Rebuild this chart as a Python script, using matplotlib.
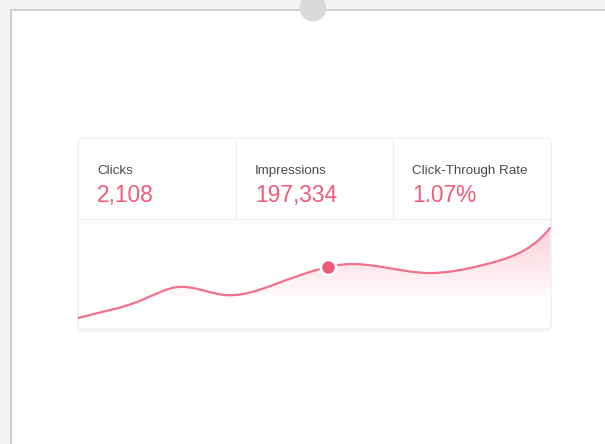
import numpy as np
import matplotlib.pyplot as plt
from matplotlib.patches import FancyBboxPatch, Circle, Rectangle, PathPatch
from matplotlib.path import Path

# stats shown in the card header
stat_labels = ['Clicks', 'Impressions', 'Click-Through Rate']
stat_values = ['2,108', '197,334', '1.07%']

# trend line (x position along the card, value)
x_pos = [0, 64, 100, 147, 195, 250, 265, 350, 405, 439, 472]
clicks = [12, 30, 43, 35, 45, 63, 65.5, 57, 65, 76, 102]
highlight = 5

pink = '#f2708c'
pink_dark = '#ee5a7c'
value_color = '#f25a7c'
label_color = '#4a4a4a'
line_color = '#edf1f6'


def smooth_path(xs, ys, start_slope, end_slope):
    # clamped cubic spline through the points, as bezier segments
    xs = np.asarray(xs, float)
    ys = np.asarray(ys, float)
    n = len(xs)
    h = np.diff(xs)
    s = np.diff(ys) / h
    A = np.zeros((n, n))
    b = np.zeros(n)
    A[0, 0] = 1
    b[0] = start_slope
    A[-1, -1] = 1
    b[-1] = end_slope
    for i in range(1, n - 1):
        A[i, i - 1] = h[i]
        A[i, i] = 2 * (h[i - 1] + h[i])
        A[i, i + 1] = h[i - 1]
        b[i] = 3 * (h[i] * s[i - 1] + h[i - 1] * s[i])
    t = np.linalg.solve(A, b)
    verts = [(xs[0], ys[0])]
    codes = [Path.MOVETO]
    for i in range(n - 1):
        dx = h[i] / 3
        verts += [(xs[i] + dx, ys[i] + dx * t[i]),
                  (xs[i + 1] - dx, ys[i + 1] - dx * t[i + 1]),
                  (xs[i + 1], ys[i + 1])]
        codes += [Path.CURVE4] * 3
    return verts, codes


fig = plt.figure(figsize=(6.05, 4.44), dpi=100)
fig.patch.set_facecolor('#f4f4f4')

bg = fig.add_axes([0, 0, 1, 1])
bg.set_xlim(0, 605)
bg.set_ylim(444, 0)
bg.axis('off')

# white sheet with grey edge and pin
bg.add_patch(Rectangle((10.5, 10.5), 620, 460, facecolor='white', edgecolor='#c6c6c6', lw=1.2))
bg.add_patch(Circle((313, 8), 13.5, facecolor='#d9d9d9', edgecolor='none', zorder=5))

# card
bg.add_patch(FancyBboxPatch((79, 140), 471, 190, boxstyle='round,pad=0,rounding_size=5',
                            facecolor='none', edgecolor='#f1f3f7', lw=2.5))
bg.add_patch(FancyBboxPatch((78, 138), 473, 191, boxstyle='round,pad=0,rounding_size=5',
                            facecolor='white', edgecolor=line_color, lw=1))
bg.plot([78, 551], [219, 219], color=line_color, lw=1)
for xd in [236, 393]:
    bg.plot([xd, xd], [138, 219], color=line_color, lw=1)

col_x = [97, 255, 412]
for x, lab, val in zip(col_x, stat_labels, stat_values):
    bg.text(x, 174, lab, fontsize=9.6, color=label_color, family='Liberation Sans', va='baseline')
    bg.text(x, 202, val, fontsize=16.4, color=value_color, family='Liberation Sans', va='baseline')

# chart area inside the card
ax = fig.add_axes([78 / 605, (444 - 330) / 444, 473 / 605, 111 / 444])
ax.set_xlim(0, 473)
ax.set_ylim(0, 111)
ax.axis('off')
ax.patch.set_alpha(0)

verts, codes = smooth_path(x_pos, clicks, 0.27, 1.25)
fill_verts = verts + [(x_pos[-1], 0), (x_pos[0], 0), verts[0]]
fill_codes = codes + [Path.LINETO, Path.LINETO, Path.CLOSEPOLY]
fill_patch = PathPatch(Path(fill_verts, fill_codes), facecolor='none', edgecolor='none')
ax.add_patch(fill_patch)

grad = np.linspace(0, 1, 256).reshape(-1, 1)
alpha = np.clip((grad * 111 - 25) / (102 - 25), 0, 1) * 0.32
rgba = np.zeros((256, 1, 4))
rgba[..., :3] = np.array([0xf2, 0x70, 0x8c]) / 255
rgba[..., 3] = alpha
img = ax.imshow(rgba, extent=[0, 473, 0, 111], origin='lower', aspect='auto', zorder=1)
img.set_clip_path(fill_patch)

ax.add_patch(PathPatch(Path(verts, codes), facecolor='none', edgecolor=pink, lw=1.6,
                       capstyle='round', zorder=3))
ax.plot(x_pos[highlight], clicks[highlight], 'o', ms=11, color=pink_dark,
        mec='white', mew=2, zorder=4)

fig.savefig('out.png', dpi=100)
